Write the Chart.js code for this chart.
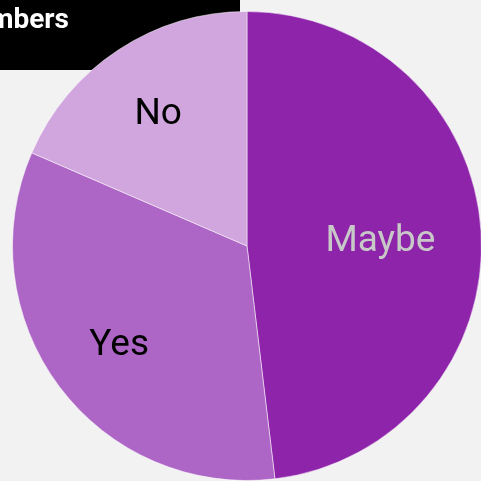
<!DOCTYPE html>
<html>
<head>
<meta charset="utf-8">
<script src="https://cdn.jsdelivr.net/npm/chart.js@4/dist/chart.umd.min.js"></script>
<style>
  html, body { margin: 0; padding: 0; background: #f2f2f2; overflow: hidden; }
  #wrap { position: absolute; left: 0; top: 0; width: 494px; height: 492px; }
</style>
</head>
<body>
<div id="wrap"><canvas id="pie"></canvas></div>
<script>
const labels = ["Maybe", "Yes", "No"];
const values = [48.1, 33.4, 18.5];
const colors = ["#8e24aa", "#ad66c5", "#d1a5dd"];
const textColors = ["#c8c8c8", "#000000", "#000000"];
const titleText = "Numbers";

// label distance from centre, as a share of the radius
const labelRadius = [0.57, 0.68, 0.69];

const titleBox = {
  id: 'titleBox',
  beforeDraw(chart) {
    const ctx = chart.ctx;
    ctx.save();
    ctx.fillStyle = '#000';
    ctx.fillRect(0, 0, 240, 70);
    ctx.fillStyle = '#fff';
    ctx.font = 'bold 28px Roboto';
    ctx.textAlign = 'right';
    ctx.textBaseline = 'alphabetic';
    ctx.fillText(titleText, 69, 28);
    ctx.restore();
  }
};

const sliceLabels = {
  id: 'sliceLabels',
  afterDatasetsDraw(chart) {
    const ctx = chart.ctx;
    const meta = chart.getDatasetMeta(0);
    ctx.save();
    ctx.font = '37px Roboto';
    ctx.textAlign = 'center';
    ctx.textBaseline = 'middle';
    meta.data.forEach((arc, i) => {
      const mid = (arc.startAngle + arc.endAngle) / 2;
      const r = arc.outerRadius * labelRadius[i];
      ctx.fillStyle = textColors[i];
      ctx.fillText(labels[i], arc.x + Math.cos(mid) * r, arc.y + Math.sin(mid) * r + 4);
    });
    ctx.restore();
  }
};

new Chart(document.getElementById('pie'), {
  type: 'pie',
  data: {
    labels: labels,
    datasets: [{
      data: values,
      backgroundColor: colors,
      borderColor: 'rgba(255,255,255,0.5)',
      borderWidth: 1
    }]
  },
  options: {
    responsive: true,
    maintainAspectRatio: false,
    animation: false,
    layout: { padding: { left: 12, right: 12, top: 11, bottom: 11 } },
    plugins: {
      legend: { display: false },
      tooltip: { enabled: false }
    }
  },
  plugins: [titleBox, sliceLabels]
});
</script>
</body>
</html>
